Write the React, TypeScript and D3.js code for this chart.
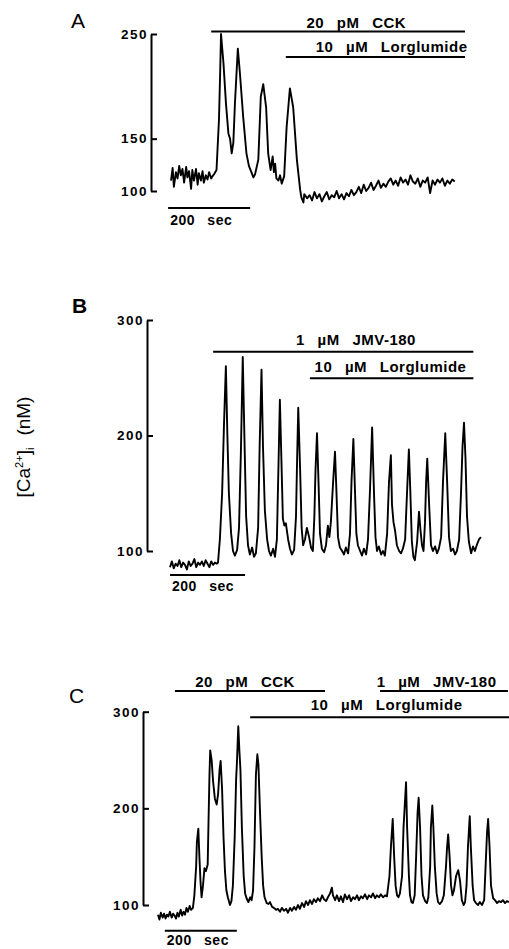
import React, { useEffect, useRef } from "react";
import * as d3 from "d3";

// [time (s), [Ca2+]i (nM)]
const traceA: [number, number][] = [
  [0, 110], [4, 122], [7, 104], [12, 118], [16, 112], [20, 124], [24, 115], [28, 121], [32, 108], [37, 123],
  [40, 113], [44, 119], [49, 102], [52, 120], [56, 110], [61, 121], [65, 106], [68, 117], [73, 110], [77, 119],
  [80, 108], [85, 115], [89, 111], [93, 118], [98, 112], [101, 114], [105, 116], [111, 120], [117, 168], [120, 215],
  [122, 250], [128, 222], [134, 184], [140, 155], [144, 150], [148, 136], [152, 146], [156, 184], [163, 236], [168, 213],
  [176, 171], [184, 136], [190, 124], [197, 117], [201, 113], [205, 116], [213, 130], [219, 190], [225, 202], [232, 180],
  [237, 136], [243, 120], [248, 133], [251, 118], [254, 126], [257, 112], [262, 110], [266, 115], [270, 107], [276, 114],
  [282, 161], [290, 198], [298, 180], [307, 130], [315, 101], [318, 94], [323, 89], [325, 97], [332, 93],
  [338, 96], [344, 91], [350, 99], [356, 93], [362, 97], [368, 90], [374, 95], [380, 99], [386, 92], [392, 96],
  [398, 94], [404, 100], [410, 93], [416, 97], [422, 92], [428, 98], [434, 95], [440, 101], [446, 96], [452, 99],
  [458, 104], [464, 98], [470, 106], [476, 100], [482, 103], [488, 108], [494, 101], [500, 105], [506, 110], [512, 103],
  [518, 107], [524, 104], [530, 109], [536, 112], [542, 106], [548, 110], [554, 105], [560, 113], [566, 108], [572, 111],
  [578, 106], [584, 115], [590, 109], [596, 107], [602, 112], [608, 104], [614, 110], [620, 108], [626, 113], [632, 98],
  [638, 110], [644, 106], [650, 111], [656, 108], [662, 112], [668, 105], [674, 110], [680, 107], [686, 111], [692, 109],
];

const traceB: [number, number][] = [
  [0, 86], [5, 91], [10, 85], [15, 89], [20, 87], [25, 92], [30, 86], [35, 90], [40, 88], [45, 84],
  [50, 91], [55, 87], [60, 89], [65, 93], [70, 86], [75, 90], [80, 88], [85, 91], [90, 87], [95, 92],
  [100, 89], [105, 86], [110, 91], [115, 88], [120, 90], [125, 89], [128, 90], [133, 110], [139, 150], [144, 210],
  [149, 260], [153, 200], [157, 150], [163, 115], [168, 100], [173, 96], [179, 101], [184, 120], [189, 185], [194, 268],
  [199, 190], [203, 130], [208, 105], [213, 97], [219, 103], [224, 95], [229, 98], [235, 120], [239, 190], [244, 257],
  [248, 190], [253, 135], [259, 110], [264, 100], [269, 96], [275, 102], [280, 95], [285, 110], [289, 170], [293, 231],
  [297, 180], [301, 128], [305, 122], [309, 124], [315, 110], [320, 102], [325, 97], [331, 101], [336, 130], [339, 180],
  [342, 224], [347, 170], [351, 120], [355, 105], [360, 110], [365, 120], [371, 112], [376, 103], [381, 100], [385, 130],
  [388, 170], [392, 202], [396, 160], [400, 115], [405, 102], [411, 99], [416, 105], [421, 122], [425, 112], [429, 125],
  [435, 160], [440, 186], [444, 150], [448, 112], [453, 103], [459, 100], [464, 97], [469, 103], [475, 98], [480, 115],
  [484, 160], [489, 197], [493, 155], [497, 115], [501, 105], [507, 100], [512, 96], [517, 102], [523, 97], [528, 110],
  [533, 150], [539, 207], [544, 150], [548, 112], [552, 100], [557, 104], [563, 97], [568, 100], [573, 96], [579, 115],
  [584, 160], [589, 183], [592, 140], [596, 125], [600, 118], [605, 105], [611, 100], [616, 98], [621, 102], [627, 110],
  [632, 150], [637, 188], [641, 150], [645, 108], [649, 95], [653, 92], [659, 108], [664, 134], [668, 118], [672, 105],
  [676, 100], [680, 125], [683, 160], [686, 180], [691, 140], [696, 105], [701, 100], [707, 104], [712, 98], [717, 102],
  [723, 112], [728, 160], [734, 202], [739, 160], [744, 112], [749, 100], [755, 102], [760, 97], [765, 100], [771, 110],
  [776, 150], [780, 190], [784, 211], [788, 180], [792, 130], [797, 108], [803, 98], [808, 104], [813, 100], [819, 106],
  [824, 110], [829, 112],
];

const traceC: [number, number][] = [
  [0, 90], [4, 85], [8, 92], [13, 87], [17, 91], [21, 86], [25, 90], [29, 88], [33, 93], [38, 87],
  [42, 91], [46, 89], [50, 86], [54, 92], [58, 88], [63, 95], [67, 89], [71, 93], [75, 90], [79, 97],
  [83, 93], [88, 99], [92, 95], [97, 97], [101, 110], [106, 140], [108, 165], [112, 179], [115, 150], [118, 125],
  [121, 108], [125, 120], [129, 138], [133, 135], [138, 142], [140, 180], [143, 235], [145, 260], [149, 250], [153, 228],
  [158, 210], [163, 204], [167, 215], [171, 240], [174, 249], [178, 220], [182, 170], [186, 135], [190, 115], [194, 108],
  [200, 100], [204, 104], [208, 120], [213, 170], [217, 230], [219, 245], [223, 285], [226, 260], [229, 240], [233, 180],
  [238, 130], [242, 112], [246, 107], [251, 103], [256, 108], [260, 105], [264, 115], [268, 160], [272, 235], [276, 256],
  [279, 245], [283, 200], [288, 150], [292, 120], [296, 108], [302, 102], [307, 101], [311, 103], [317, 98], [322, 97],
  [328, 95], [333, 96], [339, 93], [344, 97], [350, 94], [356, 96], [361, 92], [367, 97], [372, 94], [378, 98],
  [383, 95], [389, 100], [394, 96], [400, 102], [406, 98], [411, 104], [417, 100], [422, 105], [428, 101], [433, 106],
  [439, 103], [444, 107], [450, 104], [456, 110], [461, 106], [467, 104], [472, 108], [478, 112], [483, 118], [486, 110],
  [492, 105], [497, 110], [503, 104], [508, 109], [514, 103], [519, 111], [525, 106], [531, 110], [536, 104], [542, 108],
  [547, 106], [553, 110], [558, 105], [564, 109], [569, 107], [575, 111], [581, 106], [586, 110], [592, 108], [597, 112],
  [603, 107], [608, 110], [614, 108], [619, 111], [625, 108], [631, 110], [636, 109], [638, 115], [643, 130], [647, 160],
  [652, 189], [656, 150], [660, 120], [664, 110], [668, 108], [672, 112], [678, 130], [682, 180], [689, 227], [692, 180],
  [697, 130], [700, 110], [704, 103], [708, 102], [713, 110], [717, 150], [721, 195], [724, 211], [728, 180], [732, 130],
  [736, 110], [742, 104], [747, 102], [751, 108], [756, 140], [758, 180], [762, 203], [765, 180], [769, 140], [774, 112],
  [778, 103], [783, 101], [789, 104], [794, 110], [800, 140], [803, 160], [806, 173], [810, 150], [814, 120], [818, 110],
  [822, 115], [828, 130], [834, 136], [839, 125], [844, 105], [849, 100], [853, 103], [857, 120], [861, 160], [866, 192],
  [869, 160], [874, 120], [878, 105], [883, 102], [889, 100], [894, 103], [900, 100], [906, 105], [910, 140], [914, 175],
  [917, 189], [921, 160], [925, 120], [931, 107], [936, 105], [942, 102], [947, 104], [953, 103], [958, 105], [964, 102],
  [969, 104], [975, 103],
];

// drug applications: label, start (s), end (s), label centre (s), row
const drugsA = [
  { label: "20 pM CCK", start: 98, end: 717, at: 452, row: 0 },
  { label: "10 µM Lorglumide", start: 280, end: 717, at: 538, row: 1 },
];
const drugsB = [
  { label: "1 µM JMV-180", start: 115, end: 809, at: 496, row: 0 },
  { label: "10 µM Lorglumide", start: 373, end: 809, at: 588, row: 1 },
];
const drugsC = [
  { label: "20 pM CCK", start: 47, end: 464, at: 242, row: 0 },
  { label: "1 µM JMV-180", start: 617, end: 972, at: 774, row: 0 },
  { label: "10 µM Lorglumide", start: 256, end: 975, at: 635, row: 1 },
];

const ticksA = [100, 150, 250];
const ticksB = [100, 200, 300];
const ticksC = [100, 200, 300];

const scaleBarSec = 200;

const panels = [
  {
    name: "A", trace: traceA, drugs: drugsA, ticks: ticksA,
    yDomain: [100, 250], yRange: [191, 34], axisX: 151,
    x0: 171, pps: 0.41, letter: [71, 28],
    rowText: [28, 52], rowLine: [31.5, 57],
    barY: 208, barText: 225, barStart: -7,
  },
  {
    name: "B", trace: traceB, drugs: drugsB, ticks: ticksB,
    yDomain: [100, 300], yRange: [551, 320], axisX: 147,
    x0: 170, pps: 0.375, letter: [72, 313],
    rowText: [345, 371.5], rowLine: [351.7, 378.3],
    barY: 575, barText: 591, barStart: 0,
  },
  {
    name: "C", trace: traceC, drugs: drugsC, ticks: ticksC,
    yDomain: [100, 300], yRange: [905, 711.7], axisX: 143,
    x0: 158, pps: 0.36, letter: [69, 703],
    rowText: [686.5, 709.5], rowLine: [691, 717.3],
    barY: 930.7, barText: 945, barStart: 19,
  },
];

const font = "'Liberation Sans', Arial, sans-serif";

export default function App() {
  const svgRef = useRef<SVGSVGElement>(null);

  useEffect(() => {
    const svg = d3.select(svgRef.current);
    svg.selectAll("*").remove();

    panels.forEach((p) => {
      const tMax = d3.max(p.trace, (d) => d[0]) as number;
      const x = d3.scaleLinear().domain([0, tMax]).range([p.x0, p.x0 + tMax * p.pps]);
      const y = d3.scaleLinear().domain(p.yDomain).range(p.yRange);
      const g = svg.append("g");

      // panel letter
      g.append("text")
        .attr("x", p.letter[0])
        .attr("y", p.letter[1])
        .style("font-family", font)
        .style("font-size", "21px")
        .style("font-weight", p.name === "B" ? "bold" : "normal")
        .text(p.name);

      // y axis: bracket with ticks inside, labels outside
      const axis = g
        .append("g")
        .attr("transform", `translate(${p.axisX},0)`)
        .call(d3.axisRight(y).tickValues(p.ticks).tickSize(6).tickSizeOuter(0));
      axis.select(".domain").attr("stroke", "#000").attr("stroke-width", 2);
      axis.selectAll(".tick line").attr("stroke", "#000").attr("stroke-width", 2);
      axis
        .selectAll(".tick text")
        .attr("x", -3)
        .attr("text-anchor", "end")
        .style("font-family", font)
        .style("font-size", "13.5px")
        .style("font-weight", "bold")
        .style("letter-spacing", "1.5px");

      // trace
      const line = d3
        .line<[number, number]>()
        .x((d) => x(d[0]))
        .y((d) => y(d[1]));
      g.append("path")
        .datum(p.trace)
        .attr("d", line)
        .attr("fill", "none")
        .attr("stroke", "#000")
        .attr("stroke-width", 1.9)
        .attr("stroke-linejoin", "round");

      // drug bars
      p.drugs.forEach((d) => {
        g.append("line")
          .attr("x1", x(d.start))
          .attr("x2", x(d.end))
          .attr("y1", p.rowLine[d.row])
          .attr("y2", p.rowLine[d.row])
          .attr("stroke", "#000")
          .attr("stroke-width", 2);
        g.append("text")
          .attr("x", x(d.at))
          .attr("y", p.rowText[d.row])
          .attr("text-anchor", "middle")
          .style("font-family", font)
          .style("font-size", "15px")
          .style("font-weight", "bold")
          .style("letter-spacing", "0.5px")
          .style("word-spacing", "8px")
          .text(d.label);
      });

      // time scale bar
      g.append("line")
        .attr("x1", x(p.barStart))
        .attr("x2", x(p.barStart + scaleBarSec))
        .attr("y1", p.barY)
        .attr("y2", p.barY)
        .attr("stroke", "#000")
        .attr("stroke-width", 2);
      g.append("text")
        .attr("x", x(p.barStart) + 2)
        .attr("y", p.barText)
        .style("font-family", font)
        .style("font-size", "14px")
        .style("font-weight", "bold")
        .style("letter-spacing", "0.5px")
        .style("word-spacing", "8px")
        .text(`${scaleBarSec} sec`);
    });

    // shared y label
    const yl = svg
      .append("text")
      .attr("transform", "translate(30,447) rotate(-90)")
      .attr("text-anchor", "middle")
      .style("font-family", font)
      .style("font-size", "19px");
    yl.append("tspan").text("[Ca");
    yl.append("tspan").attr("dy", -7).style("font-size", "11px").text("2+");
    yl.append("tspan").attr("dy", 7).text("]");
    yl.append("tspan").attr("dy", 4).style("font-size", "11px").text("i");
    yl.append("tspan").attr("dy", -4).attr("dx", 12).text("(nM)");
  }, []);

  return (
    <svg
      ref={svgRef}
      width={509}
      height={949}
      style={{ position: "absolute", left: 0, top: 0, background: "#fff" }}
    />
  );
}
